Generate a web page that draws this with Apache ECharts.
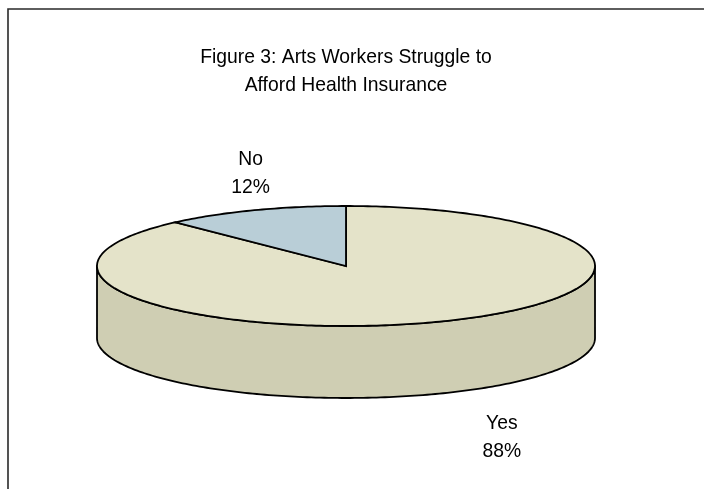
<!DOCTYPE html>
<html>
<head>
<meta charset="utf-8">
<script src="https://cdn.jsdelivr.net/npm/echarts@6/dist/echarts.min.js"></script>
<style>
  html, body { margin: 0; padding: 0; background: #ffffff; }
  #chart { width: 704px; height: 489px; }
</style>
</head>
<body>
<div id="chart"></div>
<script>
// Survey answer shares, drawn clockwise from 12 o'clock
const categories = ['Yes', 'No'];
const shares = [88, 12];
const titleLines = ['Figure 3: Arts Workers Struggle to', 'Afford Health Insurance'];

// Face colours per slice: lit top and shaded rim
const topColors = ['#e4e3c9', '#b9ced7'];
const sideColors = ['#cfceb3', '#a7bbc4'];

// Tilted-disc geometry (px)
const CX = 346, CY = 266, RX = 249, RY = 60, DEPTH = 72;
// How far out each label sits along its slice's mid-angle (x, y multipliers)
const labelReach = [[1.70, 1.77], [1.04, 1.67]];

// Slightly condensed sans text
const FONT = '"Liberation Sans", Arial, sans-serif';
const FONT_SIZE = 21;
const SQUEEZE = 0.92;
const total = shares.reduce((a, b) => a + b, 0);

function rimPoint(deg, dy) {
  const r = deg * Math.PI / 180;
  return [CX + RX * Math.sin(r), CY - RY * Math.cos(r) + dy];
}
function arc(from, to, dy) {
  const pts = [];
  const n = Math.max(2, Math.ceil(Math.abs(to - from)));
  for (let k = 0; k <= n; k++) pts.push(rimPoint(from + (to - from) * k / n, dy));
  return pts;
}

function renderSlice(params, api) {
  const i = params.dataIndex;
  const before = shares.slice(0, i).reduce((a, b) => a + b, 0);
  const start = before / total * 360;
  const end = (before + api.value(0)) / total * 360;
  const children = [];

  // Front rim: the part of the slice facing the viewer (90°..270°)
  const s = Math.max(start, 90), e = Math.min(end, 270);
  if (s < e) {
    const pts = arc(s, e, 0).concat(arc(e, s, DEPTH));
    children.push({
      type: 'polygon', z2: 1,
      shape: { points: pts },
      style: { fill: sideColors[i], stroke: '#000', lineWidth: 1.8, lineJoin: 'round' }
    });
  }

  // Top face
  children.push({
    type: 'polygon', z2: 2,
    shape: { points: [[CX, CY]].concat(arc(start, end, 0)) },
    style: { fill: topColors[i], stroke: '#000', lineWidth: 1.8, lineJoin: 'miter' }
  });

  // Category label with its share
  const mid = (start + end) / 2 * Math.PI / 180;
  const front = Math.cos(mid) < 0;
  const lx = CX + RX * labelReach[i][0] * Math.sin(mid);
  const ly = CY - RY * labelReach[i][1] * Math.cos(mid) + (front ? DEPTH : 0);
  children.push({
    type: 'text', z2: 3,
    x: lx, y: ly, scaleX: SQUEEZE,
    style: {
      text: categories[i] + '\n' + api.value(0) + '%',
      align: 'center', verticalAlign: 'middle',
      fontFamily: FONT, fontSize: FONT_SIZE, lineHeight: 28, fill: '#000'
    }
  });

  return { type: 'group', children };
}

const chart = echarts.init(document.getElementById('chart'), null, { renderer: 'canvas' });
chart.setOption({
  backgroundColor: '#ffffff',
  animation: false,
  graphic: [{
    type: 'rect', silent: true,
    shape: { x: 8, y: 9, width: 900, height: 700 },
    style: { fill: 'none', stroke: '#2a2a2a', lineWidth: 1.6 }
  }, {
    type: 'text', silent: true,
    x: 346, y: 71, scaleX: SQUEEZE,
    style: {
      text: titleLines.join('\n'),
      align: 'center', verticalAlign: 'middle',
      fontFamily: FONT, fontSize: FONT_SIZE, lineHeight: 28, fill: '#000'
    }
  }],
  series: [{
    type: 'custom',
    coordinateSystem: 'none',
    renderItem: renderSlice,
    data: shares.map((v, i) => ({ name: categories[i], value: [v] }))
  }]
});
</script>
</body>
</html>
